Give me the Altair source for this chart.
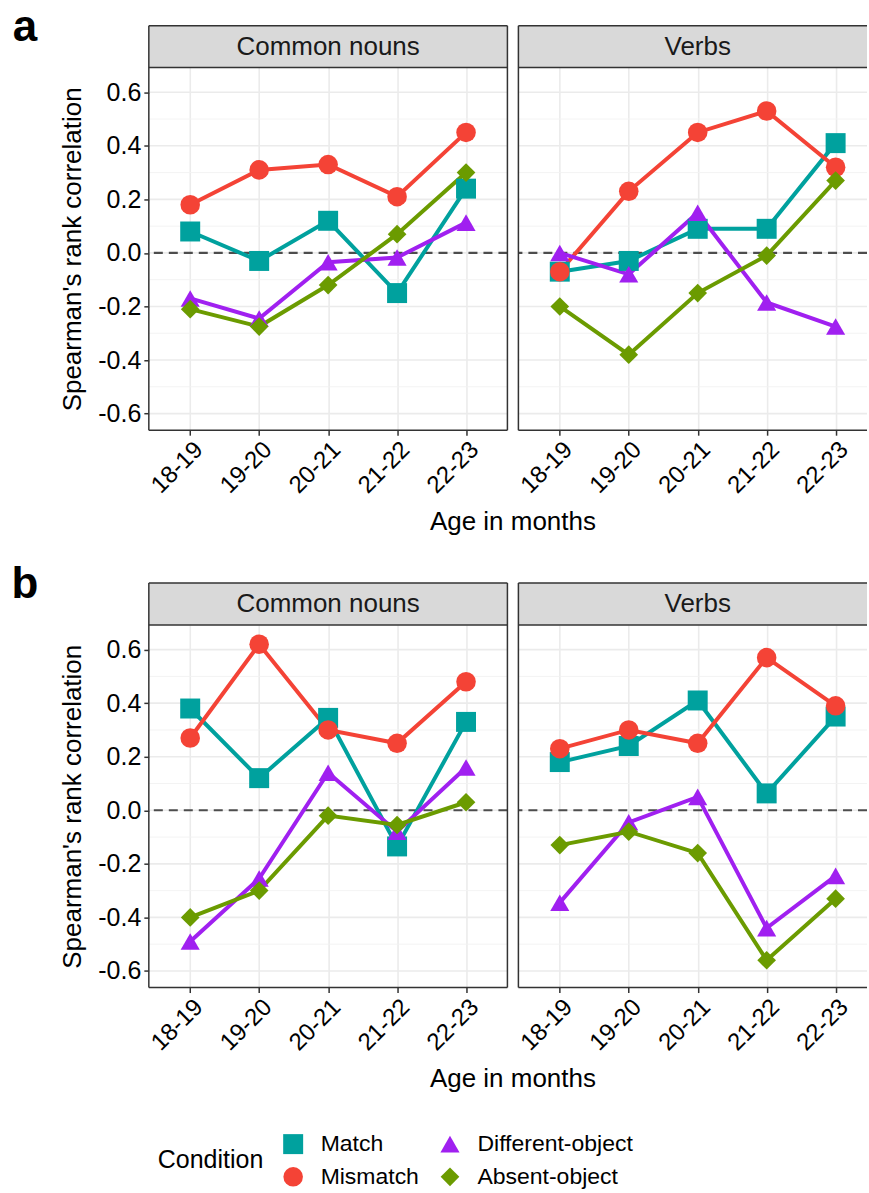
import altair as alt
import pandas as pd

ages = ["18-19", "19-20", "20-21", "21-22", "22-23"]
conditions = ["Match", "Mismatch", "Different-object", "Absent-object"]
colors = {"Match": "#00A19E", "Mismatch": "#F44336",
          "Different-object": "#A020F0", "Absent-object": "#6B9B00"}
shapes = {"Match": "square", "Mismatch": "circle",
          "Different-object": "triangle-up", "Absent-object": "diamond"}
sizes = {"Match": 400, "Mismatch": 350, "Different-object": 620, "Absent-object": 340}

# Panel a, Common nouns
a_nouns_match = [0.08, -0.03, 0.12, -0.15, 0.24]
a_nouns_mismatch = [0.18, 0.31, 0.33, 0.21, 0.45]
a_nouns_different = [-0.17, -0.245, -0.035, -0.017, 0.113]
a_nouns_absent = [-0.21, -0.275, -0.12, 0.07, 0.30]
# Panel a, Verbs
a_verbs_match = [-0.07, -0.03, 0.09, 0.09, 0.41]
a_verbs_mismatch = [-0.07, 0.23, 0.45, 0.53, 0.32]
a_verbs_different = [0.0, -0.08, 0.15, -0.185, -0.275]
a_verbs_absent = [-0.20, -0.38, -0.15, -0.01, 0.27]
# Panel b, Common nouns
b_nouns_match = [0.38, 0.12, 0.345, -0.135, 0.33]
b_nouns_mismatch = [0.27, 0.62, 0.30, 0.25, 0.48]
b_nouns_different = [-0.49, -0.255, 0.14, -0.08, 0.16]
b_nouns_absent = [-0.40, -0.30, -0.02, -0.055, 0.03]
# Panel b, Verbs
b_verbs_match = [0.18, 0.24, 0.41, 0.063, 0.35]
b_verbs_mismatch = [0.23, 0.30, 0.25, 0.57, 0.39]
b_verbs_different = [-0.345, -0.045, 0.05, -0.44, -0.245]
b_verbs_absent = [-0.13, -0.08, -0.16, -0.56, -0.33]

major_ticks = [-0.6, -0.4, -0.2, 0.0, 0.2, 0.4, 0.6]
minor_ticks = [-0.5, -0.3, -0.1, 0.1, 0.3, 0.5]
y_domain = [-0.662, 0.692]

W, H = 359, 363
W_RIGHT = 349  # right panels are cut by the figure edge
STRIP = 42
BORDER = "#333333"
GRID = "#EBEBEB"
FONT = "Liberation Sans"

# point-scale geometry: same step and left offset in the cut right panels
PAD = 0.6
N = len(ages)
STEP = W / (N - 1 + 2 * PAD)
PAD_R = (W_RIGHT / STEP - (N - 1)) / 2
ALIGN_R = (PAD * STEP) / (W_RIGHT - (N - 1) * STEP)


def make_df(series):
    rows = []
    for cond, vals in zip(conditions, series):
        for age, v in zip(ages, vals):
            rows.append({"age": age, "value": v, "Condition": cond})
    return pd.DataFrame(rows)


one = pd.DataFrame({"k": [0]})
minor_df = pd.DataFrame({"value": minor_ticks})
major_df = pd.DataFrame({"value": major_ticks})
zero_df = pd.DataFrame({"value": [0.0]})

yscale = alt.Scale(domain=y_domain, nice=False, zero=False)

color_enc = alt.Color("Condition:N",
                      scale=alt.Scale(domain=conditions, range=[colors[c] for c in conditions]),
                      legend=alt.Legend(title="Condition", orient="none", legendX=9, legendY=1066,
                                        columns=2, titleOrient="left", titleFontSize=25,
                                        titleFontWeight="normal", titleColor="black",
                                        titleBaseline="middle", titleAnchor="middle",
                                        labelFontSize=23, labelColor="black", symbolSize=400,
                                        symbolStrokeWidth=0, labelOffset=16, rowPadding=9,
                                        columnPadding=19, titlePadding=18))
shape_enc = alt.Shape("Condition:N",
                      scale=alt.Scale(domain=conditions, range=[shapes[c] for c in conditions]),
                      legend=alt.Legend(title="Condition"))
size_enc = alt.Size("Condition:N",
                    scale=alt.Scale(domain=conditions, range=[sizes[c] for c in conditions]),
                    legend=None)

label_expr = "replace(format(datum.value, '.1f'), '\u2212', '-')"


def rule(x1, x2, y1, y2):
    return alt.Chart(one).mark_rule(color=BORDER, strokeWidth=1.5).encode(
        x=alt.value(x1), x2=alt.value(x2), y=alt.value(y1), y2=alt.value(y2))


def panel(series, strip_label, left, letter=None, top=False):
    df = make_df(series)
    width = W if left else W_RIGHT
    if left:
        yaxis = alt.Axis(values=major_ticks, labelExpr=label_expr, title="Spearman's rank correlation",
                         titleFontSize=26, titleFontWeight="normal", titleColor="black",
                         labelFontSize=25, labelColor="black", tickSize=5, tickColor=BORDER,
                         tickWidth=1.5, domain=False, grid=False, labelPadding=3, titlePadding=12)
        xscale = alt.Scale(type="point", domain=ages, padding=PAD)
    else:
        yaxis = alt.Axis(values=major_ticks, labels=False, ticks=False, title=None, domain=False,
                         grid=False)
        xscale = alt.Scale(type="point", domain=ages, padding=PAD_R, align=ALIGN_R)
    y = alt.Y("value:Q", scale=yscale, axis=yaxis)
    x = alt.X("age:N", scale=xscale, sort=ages,
              axis=alt.Axis(title=None, labelAngle=-45, labelAlign="right", labelBaseline="top",
                            labelFontSize=24, labelColor="black", tickSize=5, tickColor=BORDER,
                            tickWidth=1.5, domain=False, grid=True, gridColor=GRID,
                            gridWidth=1.6, labelPadding=2))

    layers = []
    if left and top:
        layers.append(alt.Chart(one).mark_rect(fill="white", opacity=0).encode(
            x=alt.value(-149), x2=alt.value(0), y=alt.value(-67), y2=alt.value(0)))
    layers.append(alt.Chart(minor_df).mark_rule(color="#F2F2F2", strokeWidth=0.9).encode(y=y))
    layers.append(alt.Chart(major_df).mark_rule(color=GRID, strokeWidth=1.6).encode(y=y))
    layers.append(alt.Chart(zero_df).mark_rule(color="#4D4D4D", strokeWidth=2.2,
                                                 strokeDash=[9, 6]).encode(y=y))
    layers.append(alt.Chart(df).mark_line(strokeWidth=4).encode(x=x, y=y, color=color_enc,
                                                                  detail="Condition:N"))
    layers.append(alt.Chart(df).mark_point(filled=True, opacity=1).encode(
        x=x, y=y, color=color_enc, shape=shape_enc, size=size_enc))
    # strip background
    layers.append(alt.Chart(one).mark_rect(fill="#D9D9D9").encode(
        x=alt.value(0), x2=alt.value(width), y=alt.value(-STRIP), y2=alt.value(0)))
    layers.append(alt.Chart(one).mark_text(fontSize=26, color="#1A1A1A", baseline="middle",
                                           align="center").encode(
        x=alt.value(W / 2), y=alt.value(-STRIP / 2), text=alt.value(strip_label)))
    # borders (panel + strip)
    layers.append(rule(0, width, -STRIP, -STRIP))
    layers.append(rule(0, width, 0, 0))
    layers.append(rule(0, width, H, H))
    layers.append(rule(0, 0, -STRIP, H))
    if left:
        layers.append(rule(width, width, -STRIP, H))
        layers.append(alt.Chart(one).mark_text(fontSize=44, fontWeight="bold", color="black",
                                               baseline="middle", align="center").encode(
            x=alt.value(-124), y=alt.value(-40), text=alt.value(letter)))
        layers.append(alt.Chart(one).mark_text(fontSize=26, color="black", baseline="middle",
                                               align="center").encode(
            x=alt.value(364.5), y=alt.value(H + 92), text=alt.value("Age in months")))
    return alt.layer(*layers).properties(width=width, height=H)


a_left = panel([a_nouns_match, a_nouns_mismatch, a_nouns_different, a_nouns_absent],
               "Common nouns", True, "a", top=True)
a_right = panel([a_verbs_match, a_verbs_mismatch, a_verbs_different, a_verbs_absent],
                "Verbs", False)
b_left = panel([b_nouns_match, b_nouns_mismatch, b_nouns_different, b_nouns_absent],
               "Common nouns", True, "b")
b_right = panel([b_verbs_match, b_verbs_mismatch, b_verbs_different, b_verbs_absent],
                "Verbs", False)

chart = alt.concat(a_left, a_right, b_left, b_right, columns=2,
                   spacing={"row": 195, "column": 11}, bounds="flush").properties(
    padding=0
).configure(font=FONT).configure_view(stroke=None)

chart.save("out.html", embed_options={"renderer": "svg", "actions": False})
